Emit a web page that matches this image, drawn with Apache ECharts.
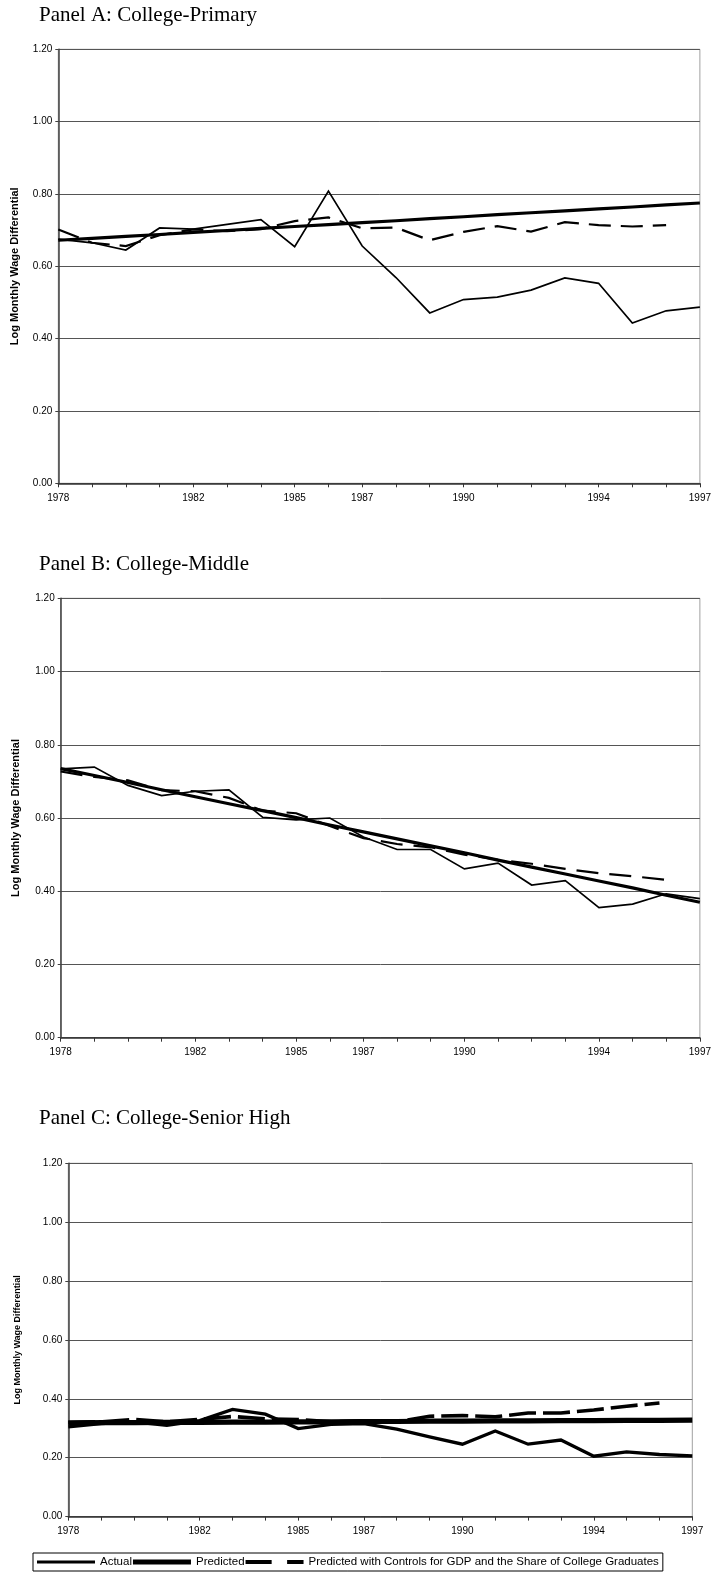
<!DOCTYPE html>
<html>
<head>
<meta charset="utf-8">
<script src="https://cdn.jsdelivr.net/npm/echarts@6/dist/echarts.min.js"></script>
<style>
html,body{margin:0;padding:0;background:#fff;}
#main{width:714px;height:1579px;}
</style>
</head>
<body>
<div id="main"></div>
<script>
// ---- data ----
const years = ['1978','1979','1980','1981','1982','1983','1984','1985','1986','1987','1988','1989','1990','1991','1992','1993','1994','1995','1996','1997'];
const labelYears = ['1978','1982','1985','1987','1990','1994','1997'];
const yTickValues = [0, 0.2, 0.4, 0.6, 0.8, 1.0, 1.2];
const panelTitles = ['Panel A: College-Primary', 'Panel B: College-Middle', 'Panel C: College-Senior High'];
const yAxisName = 'Log Monthly Wage Differential';
const seriesNames = ['Actual', 'Predicted', 'Predicted with Controls for GDP and the Share of College Graduates'];

const aActual    = [0.675,0.665,0.645,0.706,0.703,0.716,0.729,0.654,0.808,0.656,0.569,0.471,0.508,0.515,0.534,0.568,0.553,0.443,0.477,0.487];
const aPredicted = [0.672,0.677,0.683,0.688,0.694,0.699,0.705,0.710,0.715,0.721,0.726,0.732,0.737,0.743,0.748,0.753,0.759,0.764,0.770,0.775];
const aControls  = [0.702,0.665,0.656,0.686,0.702,0.697,0.703,0.725,0.735,0.705,0.707,0.672,0.695,0.711,0.696,0.722,0.714,0.710,0.714,null];

const bActual    = [0.734,0.739,0.689,0.661,0.673,0.677,0.602,0.595,0.600,0.548,0.514,0.514,0.461,0.477,0.417,0.429,0.355,0.365,0.393,0.380];
const bPredicted = [0.735,0.716,0.697,0.677,0.658,0.639,0.620,0.601,0.581,0.562,0.543,0.524,0.505,0.485,0.466,0.447,0.428,0.409,0.389,0.370];
const bControls  = [0.727,0.712,0.703,0.676,0.673,0.655,0.620,0.613,0.578,0.545,0.529,0.520,0.500,0.486,0.475,0.461,0.449,0.441,0.431,null];

const cActual    = [0.305,0.316,0.322,0.310,0.326,0.364,0.348,0.299,0.313,0.316,0.297,0.271,0.246,0.291,0.246,0.260,0.205,0.220,0.211,0.206];
const cPredicted = [0.318,0.319,0.319,0.320,0.320,0.321,0.321,0.322,0.322,0.323,0.323,0.324,0.324,0.325,0.325,0.326,0.326,0.327,0.327,0.328];
const cControls  = [0.320,0.322,0.330,0.322,0.330,0.340,0.332,0.330,0.322,0.325,0.322,0.341,0.343,0.339,0.352,0.352,0.362,0.375,0.386,null];

// ---- layout ----
const grids = [
  {left: 58.3, top: 49.3, width: 643.7, height: 434.0},
  {left: 60.7, top: 598.3, width: 641.0, height: 439.4},
  {left: 68.3, top: 1163.3, width: 624.0, height: 353.3}
];
const titleTops = [5, 553.5, 1107.5];
const nameGaps = [38, 39, 46];
const nameSizes = [11, 11, 9];
const widths = [[1.7, 3.2, 2.2], [1.7, 3.2, 2.2], [3.3, 5.2, 3.6]];
const dashes = [[22, 10], [22, 11], [27, 7]];
const panelData = [[aActual, aPredicted, aControls], [bActual, bPredicted, bControls], [cActual, cPredicted, cControls]];

const sans = 'Liberation Sans, Arial, sans-serif';
const serif = 'Liberation Serif, Times New Roman, serif';

const option = {
  animation: false,
  backgroundColor: '#fff',
  title: panelTitles.map((t, i) => ({
    text: t, left: 39, top: titleTops[i], padding: 0,
    textStyle: {fontFamily: serif, fontSize: 21, fontWeight: 'normal', color: '#000'}
  })),
  grid: grids.map(g => Object.assign({show: true, borderColor: '#a0a0a0', borderWidth: 1, backgroundColor: 'transparent'}, g)),
  xAxis: grids.map((g, i) => ({
    gridIndex: i, type: 'category', data: years, boundaryGap: false,
    axisLine: {show: true, lineStyle: {color: '#333', width: 1.5}},
    axisTick: {show: true, interval: 0, length: 4, lineStyle: {color: '#333'}},
    axisLabel: {interval: (idx, val) => labelYears.indexOf(val) >= 0, fontFamily: sans, fontSize: 10, color: '#000', margin: 10},
    splitLine: {show: false}
  })),
  yAxis: grids.map((g, i) => ({
    gridIndex: i, type: 'value', min: yTickValues[0], max: yTickValues[yTickValues.length - 1], interval: 0.2,
    name: yAxisName, nameLocation: 'middle', nameGap: nameGaps[i],
    nameTextStyle: {fontFamily: sans, fontWeight: 'bold', fontSize: nameSizes[i], color: '#000'},
    axisLine: {show: true, lineStyle: {color: '#404040', width: 1.5}},
    axisTick: {show: true, length: 3, lineStyle: {color: '#404040'}},
    axisLabel: {formatter: v => v.toFixed(2), fontFamily: sans, fontSize: 10, color: '#000', margin: 6},
    splitLine: {show: true, lineStyle: {color: '#555', width: 1}}
  })),
  legend: {
    left: 33, top: 1553, orient: 'horizontal', selectedMode: false,
    padding: [3, 4, 3, 4], borderColor: '#000', borderWidth: 1, backgroundColor: '#fff',
    itemGap: 1, itemWidth: 58, itemHeight: 6,
    textStyle: {fontFamily: sans, fontSize: 11.5, color: '#000'},
    data: [
      {name: seriesNames[0], icon: 'path://M0,0M60,6M0,1.5h60v3h-60z', itemStyle: {color: '#000', borderWidth: 0}},
      {name: seriesNames[1], icon: 'path://M0,0M60,6M0,0.5h60v5h-60z', itemStyle: {color: '#000', borderWidth: 0}},
      {name: seriesNames[2], icon: 'path://M0,0M60,6M0,1h27v4h-27zM43,1h17v4h-17z', itemStyle: {color: '#000', borderWidth: 0}}
    ]
  },
  series: []
};

panelData.forEach((arrs, p) => {
  arrs.forEach((arr, s) => {
    option.series.push({
      name: seriesNames[s], type: 'line', xAxisIndex: p, yAxisIndex: p,
      data: arr, symbol: 'none', connectNulls: false, smooth: false,
      lineStyle: {color: '#000', width: widths[p][s], type: s === 2 ? dashes[p] : 'solid', cap: 'butt', join: 'miter'},
      itemStyle: {color: '#000'},
      z: s === 1 ? 3 : 2
    });
  });
});

const chart = echarts.init(document.getElementById('main'), null, {renderer: 'canvas'});
chart.setOption(option);
</script>
</body>
</html>
